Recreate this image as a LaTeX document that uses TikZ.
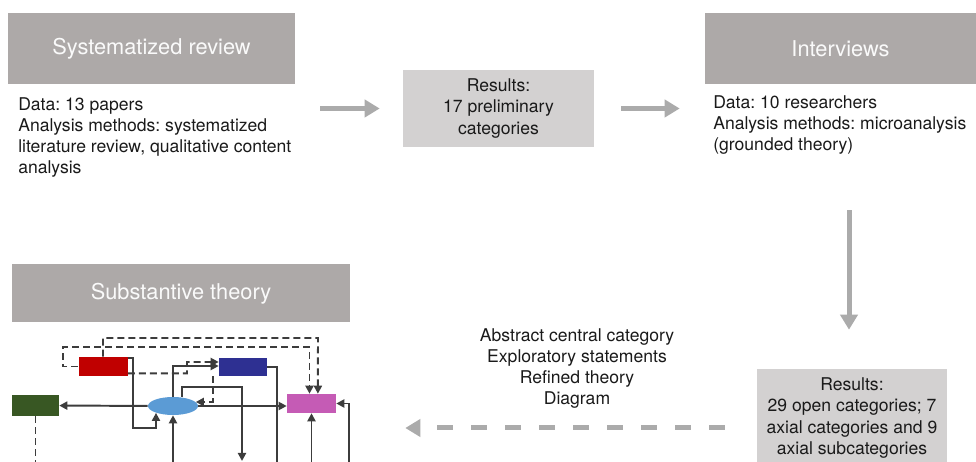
\documentclass[tikz,border=0pt]{standalone}
\usepackage{fontspec}
\setmainfont{TeX Gyre Heros}
\usetikzlibrary{arrows.meta,positioning,shapes.geometric}
\frenchspacing
\definecolor{hdrgrey}{HTML}{ADA9A8}
\definecolor{resgrey}{HTML}{D3D1D1}
\definecolor{flowgrey}{HTML}{ABABAB}
\definecolor{txtdark}{HTML}{1A1A1A}
\definecolor{linkdark}{HTML}{3C3C3C}
\definecolor{catred}{HTML}{C00000}
\definecolor{catblue}{HTML}{2E3092}
\definecolor{catgreen}{HTML}{385723}
\definecolor{catsky}{HTML}{5B9BD5}
\definecolor{catpink}{HTML}{C55BB5}
\tikzset{
  bodyfont/.style={font=\fontsize{12.5}{15}\selectfont},
  header/.style={fill=hdrgrey,text=white!94!hdrgrey,inner sep=0pt,align=center,
                 font=\fontsize{15.5}{18}\selectfont},
  result/.style={fill=resgrey,text=txtdark,bodyfont,inner sep=0pt,align=center},
  note/.style={text=txtdark,bodyfont,inner sep=0pt,align=left},
  flow/.style={-{Triangle[length=3.75mm,width=4.25mm]},line width=1.25mm,draw=flowgrey},
  flowdash/.style={flow,dash pattern=on 4mm off 4.5mm},
  cat/.style={rectangle,inner sep=0pt,minimum width=12.25mm,minimum height=4.75mm},
  wire/.style={draw=linkdark,line width=1.4pt},
  link/.style={wire,-{Triangle[length=2mm,width=2mm]}},
  dlink/.style={link,dash pattern=on 1.75mm off 1mm},
}
\begin{document}
\begin{tikzpicture}[x=0.25mm,y=-0.25mm]
  \path[use as bounding box,clip] (0,0) rectangle (976,462);

  % top row
  \node[header,minimum width=71.75mm,minimum height=17.75mm] (sysrev) at (151.5,48.5)
    {Systematized review};
  \node[note,anchor=north west] (sysdata) at (18,97)
    {Data: 13 papers\\Analysis methods: systematized\\literature review, qualitative content\\analysis};
  \node[result,minimum width=47.75mm,minimum height=19.25mm] (prelim) at (498.5,108.5)
    {Results:\\17 preliminary\\categories};
  \node[header,minimum width=67.75mm,minimum height=17.75mm] (interv) at (840.5,48.5)
    {Interviews};
  \node[note,anchor=north west] (intdata) at (713,95)
    {Data: 10 researchers\\Analysis methods: microanalysis\\(grounded theory)};

  \draw[flow,shorten <=6.25mm,shorten >=5.75mm] (sysrev.east |- prelim.west) -- (prelim.west);
  \draw[flow,shorten <=6.75mm,shorten >=6.25mm] (prelim.east) -- (prelim.east -| interv.west);

  % bottom row
  \node[result,minimum width=47.5mm,minimum height=24.5mm] (interres) at (852,418)
    {Results:\\29 open categories; 7\\axial categories and 9\\axial subcategories};
  \node[note,align=center] (theorylist) at (577,368.5)
    {Abstract central category\\Exploratory statements\\Refined theory\\Diagram};
  \node[header,minimum width=84.5mm,minimum height=14.5mm] (substh) at (181,293.5)
    {Substantive theory};

  \draw[flow,shorten <=31.5mm,shorten >=9.75mm]
    ([xshift=-.75mm]interres.north |- interv.south) -- ([xshift=-.75mm]interres.north);
  \draw[flowdash,shorten <=8mm,shorten >=13.75mm]
    ([yshift=-2.5mm]interres.west) -- ([yshift=-2.5mm]interres.west -| substh.east);

  % theory diagram
  \node[cat,fill=catred] (red) at (103,366.5) {};
  \node[cat,fill=catblue,minimum width=12mm,minimum height=4.5mm] (blue) at (243,367) {};
  \node[cat,fill=catgreen,minimum width=11.75mm,minimum height=5.25mm] (green) at (35.5,405.5) {};
  \node[cat,fill=catpink] (pink) at (311.5,403.5) {};
  \node[ellipse,fill=catsky,inner sep=0pt,minimum width=12.5mm,minimum height=4.5mm] (core) at (173,406) {};

  \coordinate (offA) at (173,472);
  \coordinate (offB) at (242,461);
  \coordinate (offC) at (277,472);
  \coordinate (offD) at (311.5,472);
  \coordinate (offE) at (349,472);
  \coordinate (offF) at (35.5,472);

  \draw[link] (core) -- (green);
  \draw[link] (core.east) -- (pink.west |- core.east);
  \draw[link] ([yshift=-.25mm]red.north east) -| (133,428) -| ([xshift=-4.25mm,yshift=.6mm]core.south);
  \draw[link] (offA) -- (core);
  \draw[link] (core.north) |- ([yshift=.25mm]blue.west);
  \draw[dlink] ([yshift=.75mm]red.south east) -| (187,362) -- ([yshift=1.25mm]blue.west);
  \draw[link] ([xshift=2.25mm]core.north) |- (242,387) -- (offB);
  \draw[wire] (blue.east) -| (offC);
  \draw[link] (offD) -- (pink);
  \draw[link] (offE) |- (pink.east);
  \draw[dlink] (red.west) -| (63,347) -| ([xshift=-.5mm]pink.north);
  \draw[dlink] (red.north) |- (318,338) -- ([xshift=1.6mm]pink.north);
  \draw[dlink,-] (green) -- (offF);
  \draw[dlink] ([xshift=-1.5mm]blue.south west) |- (core.10);
\end{tikzpicture}
\end{document}
